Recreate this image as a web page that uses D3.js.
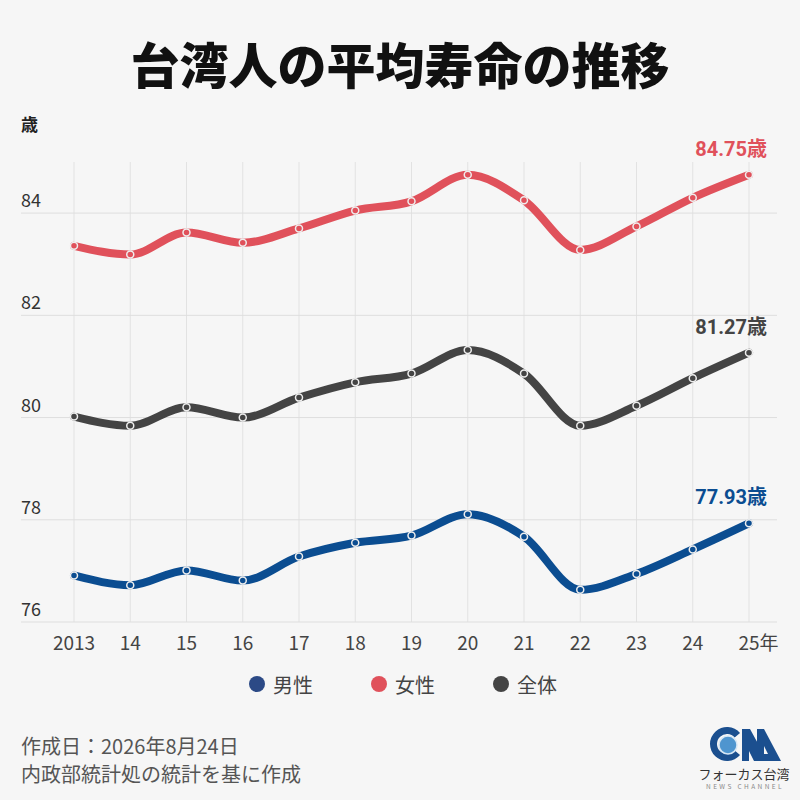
<!DOCTYPE html>
<html>
<head>
<meta charset="utf-8">
<script src="https://cdn.jsdelivr.net/npm/d3@7"></script>
<style>
  html, body { margin: 0; padding: 0; background: #f6f6f6; }
  svg { display: block; font-family: "Noto Sans CJK JP", "Noto Sans", sans-serif; }
</style>
</head>
<body>
<svg id="life-chart" width="800" height="800"></svg>
<script>
// data
var years = [2013, 2014, 2015, 2016, 2017, 2018, 2019, 2020, 2021, 2022, 2023, 2024, 2025];
var yearLabels = ["2013", "14", "15", "16", "17", "18", "19", "20", "21", "22", "23", "24", "25"];
var maleValues = [76.91, 76.72, 77.01, 76.81, 77.28, 77.55, 77.69, 78.11, 77.67, 76.63, 76.94, 77.42, 77.93];
var femaleValues = [83.36, 83.19, 83.62, 83.42, 83.70, 84.05, 84.23, 84.75, 84.25, 83.28, 83.74, 84.30, 84.75];
var totalValues = [80.02, 79.84, 80.20, 80.00, 80.39, 80.69, 80.86, 81.32, 80.86, 79.84, 80.23, 80.77, 81.27];
var yTicks = [76, 78, 80, 82, 84];
var seriesNames = ["男性", "女性", "全体"];

var svg;
var margin = {top: 162, right: 51, bottom: 178, left: 74};

document.addEventListener('DOMContentLoaded', function() {
    svg = d3.select('#life-chart');
    drawChart();
});

function drawChart()
{
    var width = +svg.attr('width');
    var height = +svg.attr('height');

    var x = d3.scaleLinear().domain([2013, 2025]).range([margin.left, width - margin.right]);
    var y = d3.scaleLinear().domain([76, 85]).range([height - margin.bottom, margin.top]);

    svg.append('rect').attr('width', width).attr('height', height).attr('fill', '#f6f6f6');

    // title
    svg.append('text')
        .attr('x', width / 2).attr('y', 62)
        .attr('text-anchor', 'middle').attr('dominant-baseline', 'central')
        .style('font-size', '49px').style('font-weight', 900).attr('fill', '#111')
        .text('台湾人の平均寿命の推移');

    svg.append('text')
        .attr('x', 21).attr('y', 123)
        .attr('dominant-baseline', 'central')
        .style('font-size', '17px').style('font-weight', 700).attr('fill', '#222')
        .text('歳');

    // grid
    svg.append('g').selectAll('line').data(years).join('line')
        .attr('x1', d => x(d)).attr('x2', d => x(d))
        .attr('y1', y(85)).attr('y2', y(76))
        .attr('stroke', '#e2e2e2').attr('stroke-width', 1);

    svg.append('g').selectAll('line').data(yTicks).join('line')
        .attr('x1', 21).attr('x2', 777)
        .attr('y1', d => y(d)).attr('y2', d => y(d))
        .attr('stroke', '#dedede').attr('stroke-width', 1);

    svg.append('g').selectAll('text').data(yTicks).join('text')
        .attr('x', 21).attr('y', d => y(d) - 6)
        .style('font-size', '18px').attr('fill', '#333')
        .text(d => d);

    // x labels; the last one gets 年 with the number centred on the tick
    svg.append('g').selectAll('text').data(years.slice(0, -1)).join('text')
        .attr('x', d => x(d)).attr('y', 650)
        .attr('text-anchor', 'middle')
        .style('font-size', '19px').attr('fill', '#444')
        .text((d, i) => yearLabels[i]);

    var lastLabel = svg.append('text')
        .attr('y', 650)
        .style('font-size', '19px').attr('fill', '#444');
    lastLabel.append('tspan').text(yearLabels[yearLabels.length - 1]);
    lastLabel.append('tspan').text('年');
    var numW = lastLabel.node().getSubStringLength(0, 2);
    lastLabel.attr('x', x(years[years.length - 1]) - numW / 2);

    var series = [
        {name: seriesNames[1], values: femaleValues, color: '#e0515b', legend: '#e0515b'},
        {name: seriesNames[2], values: totalValues, color: '#444444', legend: '#444444'},
        {name: seriesNames[0], values: maleValues, color: '#0b4d91', legend: '#2c4a86'}
    ];

    var line = d3.line()
        .x((d, i) => x(years[i]))
        .y(d => y(d))
        .curve(d3.curveMonotoneX);

    series.forEach(function(s) {
        svg.append('path')
            .attr('d', line(s.values))
            .attr('fill', 'none')
            .attr('stroke', s.color).attr('stroke-width', 8)
            .attr('stroke-linecap', 'round').attr('stroke-linejoin', 'round');

        svg.append('g').selectAll('circle').data(s.values).join('circle')
            .attr('cx', (d, i) => x(years[i])).attr('cy', d => y(d))
            .attr('r', 3.5)
            .attr('fill', s.color).attr('stroke', '#eeeeee').attr('stroke-width', 1.5);

        var last = s.values[s.values.length - 1];
        svg.append('text')
            .attr('x', x(years[years.length - 1]) + 18).attr('y', y(last) - 19)
            .attr('text-anchor', 'end')
            .style('font-family', 'Roboto, "Noto Sans CJK JP"')
            .style('font-size', '20px').style('font-weight', 700)
            .attr('fill', s.color)
            .text(last.toFixed(2) + '歳');
    });

    // legend
    var legendItems = [series[2], series[0], series[1]];
    var legend = svg.append('g').selectAll('g').data(legendItems).join('g')
        .attr('transform', (d, i) => 'translate(' + (257 + i * 122) + ',684)');
    legend.append('circle').attr('r', 8).attr('fill', d => d.legend);
    legend.append('text')
        .attr('x', 16).attr('dominant-baseline', 'central')
        .style('font-size', '20px').attr('fill', '#444')
        .text(d => d.name);

    // footer
    svg.append('text').attr('x', 21).attr('y', 745).attr('dominant-baseline', 'central')
        .style('font-size', '20px').attr('fill', '#555').text('作成日：2026年8月24日');
    svg.append('text').attr('x', 21).attr('y', 773).attr('dominant-baseline', 'central')
        .style('font-size', '20px').attr('fill', '#555').text('内政部統計処の統計を基に作成');

    drawLogo();
}

function drawLogo()
{
    var g = svg.append('g');
    var navy = '#1b4f8f';
    var arc = d3.arc().innerRadius(10).outerRadius(17)
        .startAngle(40 * Math.PI / 180).endAngle(320 * Math.PI / 180);
    // C is open to the right, so rotate
    g.append('path').attr('d', arc()).attr('fill', navy)
        .attr('transform', 'translate(727,744) rotate(90)');
    g.append('circle').attr('cx', 728).attr('cy', 745).attr('r', 9)
        .attr('fill', '#4f95cf').attr('stroke', '#d6e6f4').attr('stroke-width', 1.5);
    g.append('path')
        .attr('d', 'M742,761 L742,729 L750,729 L761,749 L761,761 L754,761 L749,751 L749,761 Z')
        .attr('fill', navy);
    g.append('path')
        .attr('d', 'M757,729 L764,729 L781,761 L757,761 Z M764,746 L764,754 L768,754 Z')
        .attr('fill', navy).attr('fill-rule', 'evenodd');
    g.append('text').attr('x', 744).attr('y', 773).attr('text-anchor', 'middle')
        .attr('dominant-baseline', 'central')
        .style('font-size', '13px').attr('fill', '#333').text('フォーカス台湾');
    g.append('text').attr('x', 745).attr('y', 786).attr('text-anchor', 'middle')
        .attr('dominant-baseline', 'central')
        .style('font-size', '6.5px').style('letter-spacing', '2.4px').attr('fill', '#888')
        .text('NEWS CHANNEL');
}
</script>
</body>
</html>
